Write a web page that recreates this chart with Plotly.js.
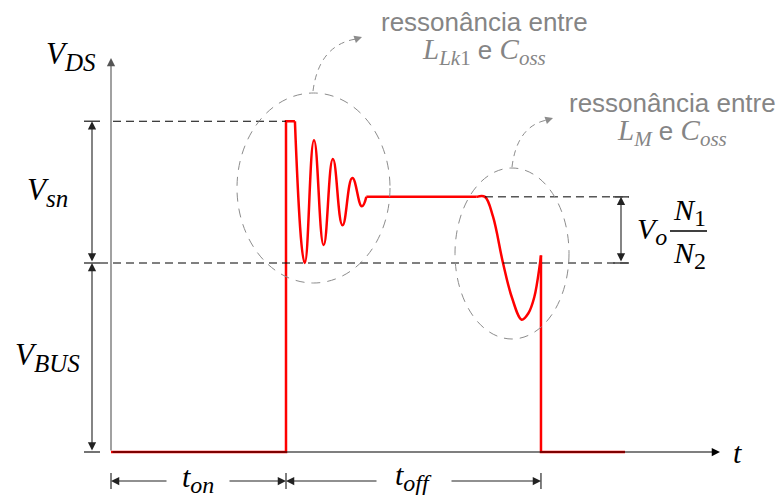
<!DOCTYPE html>
<html>
<head>
<meta charset="utf-8">
<script src="https://cdn.plot.ly/plotly-3.0.1.min.js"></script>
<style>
html, body { margin: 0; padding: 0; background: #fff; }
#graph { width: 779px; height: 495px; }
</style>
</head>
<body>
<div id="graph"></div>
<script>
// niveis de tensao (V) e instantes (us)
var vBus = 100, vPeak = 175, vPlateau = 135;
var tOn = 10, tOffEnd = 24.57, tStop = 29.37;

// conducao + subida
var riseT = [0, tOn, tOn, 10.51];
var riseV = [0, 0, vPeak, vPeak];
// ressonancia L_Lk1 / C_oss (picos e vales)
var ringT = [10.51, 11.07, 11.60, 12.15, 12.68, 13.23, 13.79, 14.33, 14.59];
var ringV = [175, 100, 165, 109.5, 155, 120, 145, 130, 135];
// patamar
var flatT = [14.59, 20.9];
var flatV = [135, 135];
// ressonancia L_M / C_oss
var dipT = [20.9, 21.37, 21.83, 22.4, 22.9, 23.47, 23.85, 24.19, 24.51, 24.57];
var dipV = [135, 135, 124.5, 100, 82, 70, 73.4, 82, 99.5, 104];
// fim do t_off
var fallT = [tOffEnd, tOffEnd, tStop];
var fallV = [104, 0, 0];

// px -> dados (para posicionar as anotacoes)
var pxT0 = 111, pxPerT = 17.5, pxV0 = 452, pxPerV = 1.89;
function X(px) { return (px - pxT0) / pxPerT; }
function Y(py) { return (pxV0 - py) / pxPerV; }

var serif = 'Liberation Serif, DejaVu Serif, serif';
var sans = 'Liberation Sans, Arial, sans-serif';
var gray = '#858585';

function seg(t, v, shape, smooth) {
    return {
        x: t, y: v, mode: 'lines',
        line: { color: '#ff0000', width: 2.5, shape: shape || 'linear', smoothing: smooth || 1 },
        hoverinfo: 'skip', showlegend: false
    };
}

var data = [
    seg(riseT, riseV),
    seg(ringT, ringV, 'spline', 1.3),
    seg(flatT, flatV),
    seg(dipT, dipV, 'spline', 1),
    seg(fallT, fallV)
];

function hline(x0, x1, y, color, dash, w) {
    return { type: 'line', xref: 'x', yref: 'y', x0: x0, x1: x1, y0: y, y1: y,
        line: { color: color, width: w || 1, dash: dash || 'solid' } };
}
function vline(x, y0, y1, color, w) {
    return { type: 'line', xref: 'x', yref: 'y', x0: x, x1: x, y0: y0, y1: y1,
        line: { color: color, width: w || 1 } };
}

var shapes = [
    // linhas tracejadas de referencia
    hline(X(113), tOn, vPeak, '#000', '8px,5px'),
    hline(X(100), X(629), vBus, '#000', '8px,5px'),
    hline(dipT[1], X(629), vPlateau, '#000', '8px,5px'),
    // marcas das cotas
    hline(X(84), X(100), vPeak, '#444', null, 1.5),
    hline(X(84), X(100), vBus, '#444', null, 1.5),
    hline(X(84), X(100), 0, '#444', null, 1.5),
    hline(X(613), X(629), vPlateau, '#444', null, 1.5),
    hline(X(613), X(629), vBus, '#444', null, 1.5),
    vline(0, Y(473), Y(489), '#000'),
    vline(tOn, Y(473), Y(489), '#000'),
    vline(tOffEnd, Y(473), Y(489), '#000'),
    // traco da fracao
    hline(X(670), X(707), Y(231), '#000', null, 1.3),
    // elipses
    { type: 'circle', xref: 'x', yref: 'y', x0: X(237), x1: X(390), y0: Y(93), y1: Y(283),
      line: { color: '#8c8c8c', width: 1, dash: '9px,7px' } },
    { type: 'circle', xref: 'x', yref: 'y', x0: X(455), x1: X(569), y0: Y(168), y1: Y(339),
      line: { color: '#8c8c8c', width: 1, dash: '9px,7px' } },
    // setas curvas
    { type: 'path', xref: 'x', yref: 'y',
      path: 'M' + X(313) + ',' + Y(91) + ' Q' + X(319) + ',' + Y(45) + ' ' + X(356) + ',' + Y(39),
      line: { color: '#8c8c8c', width: 1, dash: '6px,5px' } },
    { type: 'path', xref: 'x', yref: 'y',
      path: 'M' + X(512) + ',' + Y(167) + ' Q' + X(517) + ',' + Y(126) + ' ' + X(547) + ',' + Y(120),
      line: { color: '#8c8c8c', width: 1, dash: '6px,5px' } }
];

function arrow(x, y, ax, ay, color, both) {
    return {
        x: x, y: y, ax: ax, ay: ay, xref: 'x', yref: 'y', axref: 'x', ayref: 'y',
        text: '', showarrow: true, arrowhead: 2, arrowsize: 1.5, arrowwidth: 1.1,
        arrowcolor: color, arrowside: both ? 'end+start' : 'end',
        startarrowhead: 2, startarrowsize: 1.5, standoff: 0, startstandoff: 0
    };
}
function headOnly(px, py, dx, dy) {
    return {
        x: X(px), y: Y(py), xref: 'x', yref: 'y', ax: dx, ay: dy,
        text: '', showarrow: true, arrowhead: 2, arrowsize: 1.4, arrowwidth: 1.1,
        arrowcolor: '#8c8c8c'
    };
}
function label(px, py, text, size, color, family) {
    return {
        x: X(px), y: Y(py), xref: 'x', yref: 'y', text: text, showarrow: false,
        xanchor: 'center', yanchor: 'middle',
        font: { size: size, color: color || '#000', family: family || serif }
    };
}
// variavel com indice (estilo LaTeX)
function mvar(base, sub, subSize) {
    var s = '<i>' + base + '</i>';
    if (sub) s += '<sub><span style="font-size:' + subSize + 'px">' + sub + '</span></sub>';
    return s;
}

var sp = '<span style="font-family:Liberation Serif;font-size:29px">';

var annotations = [
    // eixos
    arrow(0, Y(58), 0, 0, '#555'),
    arrow(X(720), 0, 0, 0, '#000'),
    // cotas
    arrow(X(92), vPeak, X(92), vBus, '#222', true),
    arrow(X(92), vBus, X(92), 0, '#222', true),
    arrow(X(621), vPlateau, X(621), vBus, '#222', true),
    arrow(0, Y(481), X(168), Y(481), '#222'),
    arrow(tOn, Y(481), X(228), Y(481), '#222'),
    arrow(tOn, Y(481), X(378), Y(481), '#222'),
    arrow(tOffEnd, Y(481), X(450), Y(481), '#222'),
    // pontas das setas curvas
    headOnly(362, 37, -9, 3),
    headOnly(553, 118, -9, 3),
    // rotulos
    label(71, 56, mvar('V', '<i>DS</i>', 25), 31),
    label(47, 192, mvar('V', '<i>sn</i>', 25), 31),
    label(47, 357, mvar('V', '<i>BUS</i>', 25), 31),
    label(198, 479, mvar('t', '<i>on</i>', 24), 30),
    label(413, 477, mvar('t', '<i>off</i>', 24), 30),
    label(737, 452, '<i>t</i>', 30),
    label(652, 231, mvar('V', '<i>o</i>', 24), 30),
    label(689, 212, mvar('N', '1', 24), 30),
    label(689, 255, mvar('N', '2', 24), 30),
    label(484, 22, 'ressonância entre', 26, gray, sans),
    label(484, 51, sp + mvar('L', '<i>Lk</i>1', 21) + '</span> e ' + sp + mvar('C', '<i>oss</i>', 21) + '</span>', 26, gray, sans),
    label(672, 103, 'ressonância entre', 26, gray, sans),
    label(672, 132, sp + mvar('L', '<i>M</i>', 21) + '</span> e ' + sp + mvar('C', '<i>oss</i>', 21) + '</span>', 26, gray, sans)
];

var layout = {
    width: 779,
    height: 495,
    margin: { l: 0, r: 0, t: 0, b: 0 },
    paper_bgcolor: '#fff',
    plot_bgcolor: '#fff',
    xaxis: { range: [X(0), X(779)], visible: false, fixedrange: true },
    yaxis: { range: [Y(495), Y(0)], visible: false, fixedrange: true },
    shapes: shapes,
    annotations: annotations,
    showlegend: false
};

var config = {
    staticPlot: true,
    displayModeBar: false
};

Plotly.newPlot('graph', data, layout, config);
</script>
</body>
</html>
